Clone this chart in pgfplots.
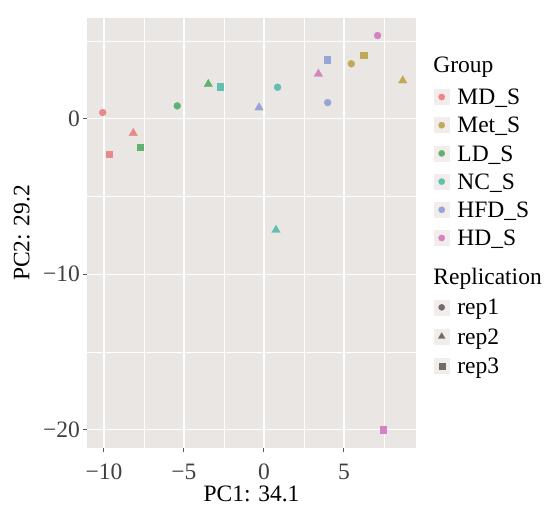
\documentclass[border=0pt]{standalone}
\usepackage{fontspec}
\setmainfont{Liberation Serif}
\usepackage{pgfplots}
\usepackage{pgfplotstable}
\pgfplotsset{compat=1.18}
\definecolor{bg}{RGB}{234,230,227}
\definecolor{keybg}{RGB}{242,236,234}
\definecolor{mdc}{RGB}{233,137,137}
\definecolor{metc}{RGB}{193,170,85}
\definecolor{ldc}{RGB}{96,178,112}
\definecolor{ncc}{RGB}{95,192,175}
\definecolor{hfdc}{RGB}{150,164,215}
\definecolor{hdc}{RGB}{212,130,195}
\definecolor{repc}{RGB}{112,106,106}
\newcommand\ls[2]{\rule[\dimexpr 7.8bp-#2\relax]{0pt}{\dimexpr #1+#2\relax}}

\pgfplotstableread{
x y g
-10.08 0.41 MD
-5.42 0.84 LD
5.46 3.55 Met
0.85 2.04 NC
3.98 1.05 HFD
7.10 5.37 HD
}\repone
\pgfplotstableread{
x y g
-8.17 -0.92 MD
8.67 2.47 Met
-3.48 2.24 LD
0.75 -7.16 NC
-0.31 0.73 HFD
3.40 2.90 HD
}\reptwo
\pgfplotstableread{
x y g
-9.67 -2.26 MD
6.21 4.11 Met
-7.75 -1.83 LD
-2.75 2.06 NC
3.94 3.81 HFD
7.44 -20.0 HD
}\repthree

\pgfplotsset{
  grpkey/.style={legend image code/.code={\fill[keybg] (0bp,-7.5bp) rectangle (15bp,7.5bp); \fill[#1] (7.5bp,0bp) circle (3.1bp);}},
  repkey/.style n args={2}{legend image code/.code={\fill[keybg] (0bp,-7.5bp) rectangle (15bp,7.5bp); \path plot[only marks, mark=#1, mark size=#2, mark options={fill=repc, draw=repc, line width=0.2bp}] coordinates {(7.5bp,0bp)};}},
  cls/.style={scatter, only marks, forget plot, scatter src=explicit symbolic,
    scatter/classes={
      MD={draw=mdc,fill=mdc}, Met={draw=metc,fill=metc}, LD={draw=ldc,fill=ldc},
      NC={draw=ncc,fill=ncc}, HFD={draw=hfdc,fill=hfdc}, HD={draw=hdc,fill=hdc}},
    mark options={line width=0.3bp}},
}

\begin{document}
\begin{tikzpicture}
\useasboundingbox (0,0) rectangle (547bp,509bp);
\begin{axis}[
  at={(87bp,61bp)}, anchor=south west,
  scale only axis, width=329bp, height=430bp,
  xmin=-11.06, xmax=9.5, ymin=-21.2, ymax=6.5,
  axis background/.style={fill=bg},
  axis line style={draw=none},
  xtick={-10,-5,0,5}, xticklabels={−10,−5,0,5},
  ytick={-20,-10,0}, yticklabels={−20,−10,0},
  minor xtick={-7.5,-2.5,2.5,7.5}, minor ytick={-15,-5,5},
  xtick pos=left, ytick pos=left,
  grid=both,
  major grid style={white, line width=1.1bp},
  minor grid style={white, line width=0.5bp},
  tick align=outside, major tick length=3.5bp, minor tick length=0pt,
  tick style={black!65, line width=1bp},
  ticklabel style={font=\fontsize{23.5bp}{24bp}\selectfont, text=black!75},
  xticklabel style={anchor=base, yshift=-27.5bp},
  yticklabel style={anchor=east},
  xlabel={PC1: 34.1}, ylabel={PC2: 29.2},
  label style={font=\fontsize{23.5bp}{24bp}\selectfont},
  xlabel style={at={(axis description cs:0.5,-0.1240)}, anchor=base},
  ylabel style={at={(axis description cs:-0.1748,0.5)}, anchor=base},
  legend style={at={(axis description cs:1.0547,0.9235)}, anchor=north west,
    draw=none, fill=none, inner sep=0pt, outer sep=0pt, row sep=0pt, column sep=8bp,
    nodes={inner sep=0pt, text depth=, text height=}, font=\fontsize{23.5bp}{24bp}\selectfont},
  legend cell align=left,
]
\addplot[cls, mark=*, mark size=3.5bp] table[x=x,y=y,meta=g]{\repone};
\addplot[cls, mark=triangle*, mark size=4.9bp] table[x=x,y=y,meta=g]{\reptwo};
\addplot[cls, mark=square*, mark size=3.3bp] table[x=x,y=y,meta=g]{\repthree};

\addlegendimage{empty legend}\addlegendentry{\hspace{-24bp}\ls{14.1bp}{17.9bp}Group}
\addlegendimage{grpkey=mdc}\addlegendentry{\ls{14.1bp}{14.1bp}MD\_S}
\addlegendimage{grpkey=metc}\addlegendentry{\ls{14.1bp}{14.1bp}Met\_S}
\addlegendimage{grpkey=ldc}\addlegendentry{\ls{14.1bp}{14.1bp}LD\_S}
\addlegendimage{grpkey=ncc}\addlegendentry{\ls{14.1bp}{14.1bp}NC\_S}
\addlegendimage{grpkey=hfdc}\addlegendentry{\ls{14.1bp}{14.1bp}HFD\_S}
\addlegendimage{grpkey=hdc}\addlegendentry{\ls{14.1bp}{14.1bp}HD\_S}
\addlegendimage{empty legend}\addlegendentry{\hspace{-24bp}\ls{24.9bp}{15.9bp}Replication}
\addlegendimage{repkey={*}{3.1bp}}\addlegendentry{\ls{14.1bp}{14.75bp}rep1}
\addlegendimage{repkey={triangle*}{4bp}}\addlegendentry{\ls{14.75bp}{14.75bp}rep2}
\addlegendimage{repkey={square*}{2.9bp}}\addlegendentry{\ls{14.75bp}{14.75bp}rep3}
\end{axis}
\end{tikzpicture}
\end{document}
